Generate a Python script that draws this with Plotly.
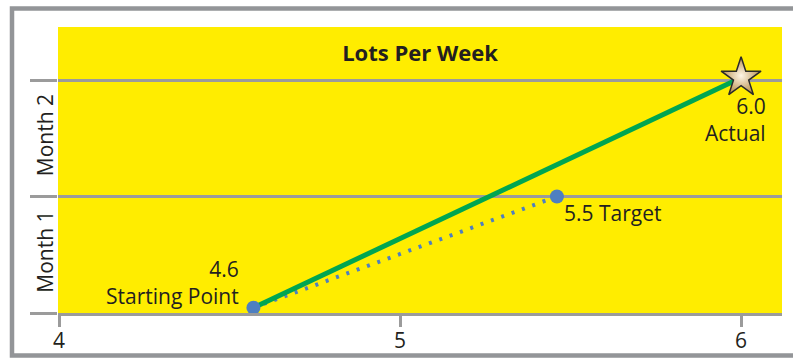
import plotly.graph_objects as go

# ---- data ----
start_x, start_y = 4.57, 0.045
target_x, target_y = 5.46, 1.0
actual_x, actual_y = 6.0, 2.02
x_ticks = [4, 5, 6]
month_pos = [0.5, 1.5]
month_labels = ["Month 1", "Month 2"]
grid_pos = [0, 1, 2]
title_text = "Lots Per Week"

YELLOW = "#FFED00"
GREEN = "#00A651"
BLUE = "#4E7FC0"
GRID = "#9B9B9B"
BORDER = "#939598"
TEXT = "#231F20"
FONT = "Open Sans"

fig = go.Figure()

# target (dotted) line
fig.add_trace(go.Scatter(
    x=[start_x, target_x], y=[start_y, target_y], mode="lines",
    line=dict(color=BLUE, width=4, dash="3px,8px"), hoverinfo="skip"))
# actual line
fig.add_trace(go.Scatter(
    x=[start_x, actual_x], y=[start_y, actual_y], mode="lines",
    line=dict(color=GREEN, width=5), hoverinfo="skip"))
# blue markers
fig.add_trace(go.Scatter(
    x=[start_x, target_x], y=[start_y, target_y], mode="markers",
    marker=dict(color=BLUE, size=14, line=dict(width=0))))
# star
fig.add_trace(go.Scatter(
    x=[actual_x], y=[actual_y], mode="markers",
    marker=dict(symbol="star", size=30, color="#B8904F",
                gradient=dict(type="radial", color="#FFF6E6"),
                line=dict(color="#2A2A2A", width=1.5))))

ann_font = dict(family=FONT, size=21, color=TEXT)
anns = [
    dict(x=start_x, y=start_y, text=f"{start_x:.1f}<br>Starting Point", align="right",
         xanchor="right", yanchor="middle", xshift=-12, yshift=25),
    dict(x=target_x, y=target_y, text=f"{target_x:.1f} Target", xanchor="left", yanchor="middle",
         xshift=5, yshift=-16),
    dict(x=actual_x, y=actual_y, text=f"{actual_x:.1f}<br>Actual", align="right",
         xanchor="right", yanchor="middle", xshift=27, yshift=-42),
]
for a in anns:
    a.update(xref="x", yref="y", showarrow=False, font=ann_font)

fig.update_layout(
    width=793, height=358,
    margin=dict(l=58, r=11, t=27, b=45),
    paper_bgcolor="white", plot_bgcolor=YELLOW,
    showlegend=False,
    annotations=anns,
    title=dict(text=f"<b>{title_text}</b>", x=0.5, xref="paper", xanchor="center",
               y=1 - 53 / 358, yref="container", yanchor="middle",
               font=dict(family=FONT, size=22, color=TEXT)),
    xaxis=dict(range=[3.997, 6.12], tickvals=x_ticks, ticktext=[str(v) for v in x_ticks],
               showgrid=False, zeroline=False, automargin=False,
               ticks="outside", ticklen=11, tickwidth=2.5, tickcolor=GRID,
               ticklabelstandoff=-4,
               tickfont=dict(family=FONT, size=21, color=TEXT),
               showline=True, linecolor=GRID, linewidth=2.5),
    yaxis=dict(range=[0, 2.455], tickvals=month_pos, ticktext=month_labels,
               tickangle=-90, ticks="", showgrid=False, zeroline=False, automargin=False,
               tickfont=dict(family=FONT, size=21, color=TEXT),
               minor=dict(tickvals=grid_pos, showgrid=True, gridcolor=GRID, gridwidth=2.5,
                          ticks="outside", ticklen=27, tickwidth=2.5, tickcolor=GRID)),
    shapes=[dict(type="rect", xref="paper", yref="paper",
                 x0=(12 - 58) / 724, x1=(800 - 58) / 724,
                 y0=(313 - 355.5) / 286, y1=(313 - 8.5) / 286,
                 line=dict(color=BORDER, width=4.5), layer="below")],
)

fig.write_html("out.html")
